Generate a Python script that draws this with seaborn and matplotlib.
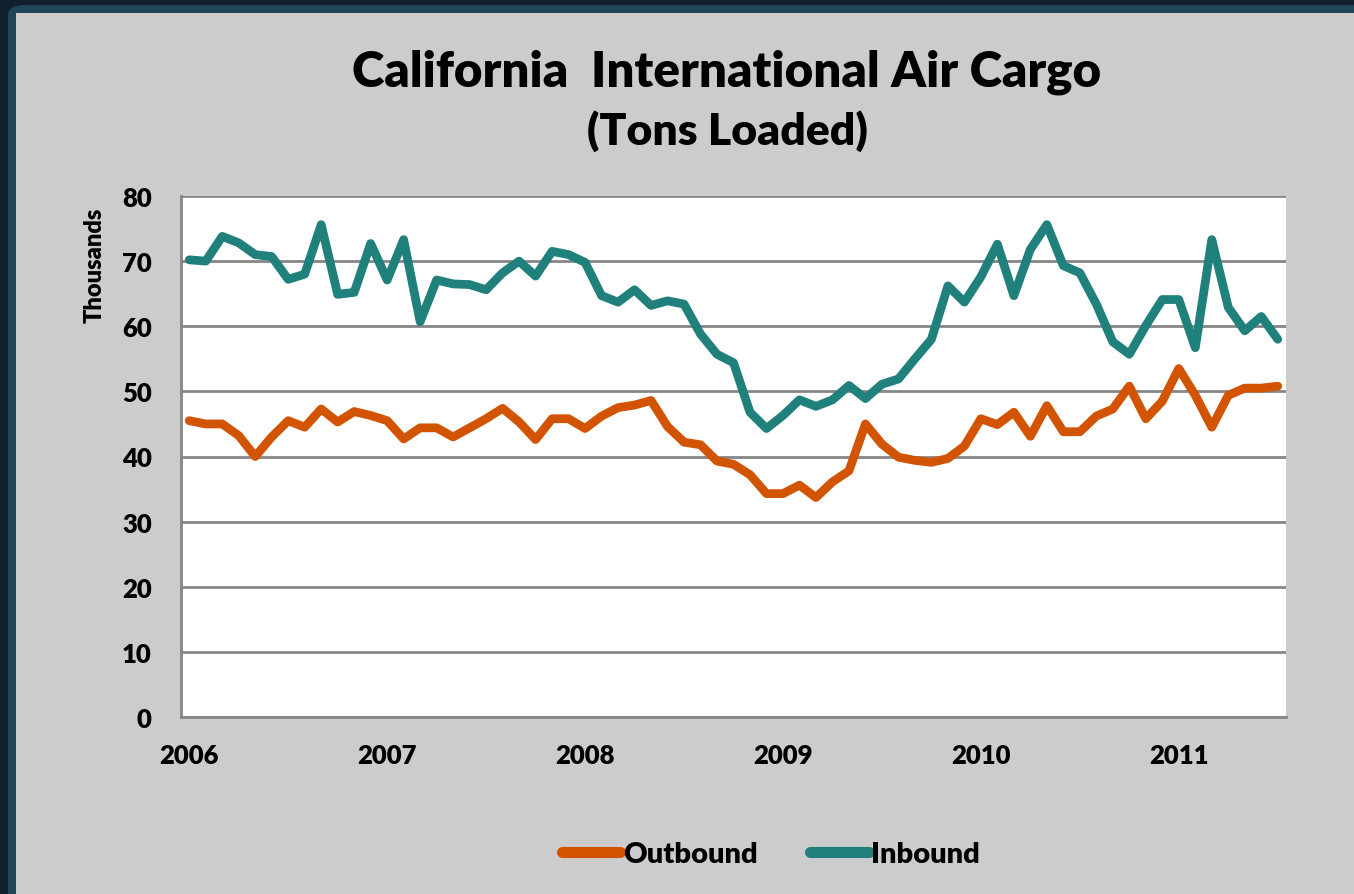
"""California international air cargo, tons loaded, monthly 2006-2011."""

import matplotlib.pyplot as plt
import pandas as pd
import seaborn as sns
from matplotlib.patches import FancyBboxPatch, Rectangle

YEARS = ["2006", "2007", "2008", "2009", "2010", "2011"]
SERIES = ["Outbound", "Inbound"]
COLORS = {"Outbound": "#D35400", "Inbound": "#1F807C"}

# thousands of tons, one value per month from Jan 2006 to Jul 2011
OUTBOUND = [
    45.5, 45.0, 45.0, 43.2, 40.0, 43.0, 45.5, 44.5, 47.3, 45.3, 46.9, 46.3,
    45.5, 42.7, 44.4, 44.4, 43.0, 44.4, 45.8, 47.4, 45.3, 42.6, 45.8, 45.8,
    44.3, 46.2, 47.5, 47.9, 48.6, 44.6, 42.2, 41.8, 39.3, 38.8, 37.2, 34.3,
    34.3, 35.6, 33.7, 36.1, 37.8, 45.0, 41.9, 39.9, 39.4, 39.1, 39.7, 41.6,
    45.8, 44.9, 46.8, 43.1, 47.8, 43.8, 43.8, 46.2, 47.3, 50.8, 45.8, 48.5,
    53.5, 49.4, 44.5, 49.4, 50.5, 50.5, 50.8,
]
INBOUND = [
    70.2, 70.0, 73.8, 72.8, 71.0, 70.7, 67.2, 68.0, 75.6, 64.9, 65.2, 72.7,
    67.1, 73.3, 60.7, 67.1, 66.5, 66.4, 65.6, 68.2, 70.0, 67.7, 71.5, 71.0,
    69.8, 64.7, 63.7, 65.6, 63.2, 63.9, 63.4, 58.8, 55.7, 54.4, 46.8, 44.3,
    46.3, 48.7, 47.7, 48.7, 50.9, 48.9, 51.1, 51.9, 55.0, 58.0, 66.2, 63.7,
    67.6, 72.6, 64.7, 71.8, 75.6, 69.3, 68.2, 63.4, 57.6, 55.7, 60.1, 64.1,
    64.1, 56.7, 73.3, 62.9, 59.3, 61.5, 58.0,
]

GRID_COLOR = "#868686"
PANEL_COLOR = "#CCCCCC"
FONT = ["Lato", "DejaVu Sans"]


def build_frame() -> pd.DataFrame:
    months = list(range(len(OUTBOUND)))
    frames = [
        pd.DataFrame({"month": months, "tons": OUTBOUND, "series": "Outbound"}),
        pd.DataFrame({"month": months, "tons": INBOUND, "series": "Inbound"}),
    ]
    return pd.concat(frames, ignore_index=True)


def draw_background(fig) -> None:
    W, H = fig.get_size_inches() * fig.dpi
    fig.patch.set_facecolor("#11202C")
    border = FancyBboxPatch(
        (8 / W, -0.1), 1.2, 1.1 - 6 / H,
        boxstyle="round,pad=0,rounding_size=0.012",
        transform=fig.transFigure, facecolor="#1F4558", edgecolor="none", zorder=-10,
    )
    panel = Rectangle(
        (16 / W, -0.1), 1.2, 1.1 - 14 / H,
        transform=fig.transFigure, facecolor=PANEL_COLOR, edgecolor="none", zorder=-9,
    )
    fig.add_artist(border)
    fig.add_artist(panel)


def main() -> None:
    sns.set_theme(style="white")
    plt.rcParams["font.family"] = FONT
    plt.rcParams["font.weight"] = "bold"
    plt.rcParams["text.color"] = "black"

    df = build_frame()
    n = len(OUTBOUND)

    fig = plt.figure(figsize=(13.54, 8.95), dpi=100)
    draw_background(fig)
    ax = fig.add_axes([181 / 1354, 1 - 718 / 895, (1286 - 181) / 1354, (718 - 197) / 895])
    ax.set_facecolor("white")

    sns.lineplot(
        data=df, x="month", y="tons", hue="series", hue_order=SERIES,
        palette=COLORS, linewidth=6.3, ax=ax, legend=False,
        solid_joinstyle="round", solid_capstyle="round", zorder=3,
    )

    ax.set_xlim(-0.5, n - 0.5)
    ax.set_ylim(0, 80)
    ax.set_yticks(range(0, 81, 10))
    ax.yaxis.grid(True, color=GRID_COLOR, linewidth=2)
    ax.set_axisbelow(True)

    ax.set_xticks([12 * i for i in range(len(YEARS))])
    ax.set_xticklabels(YEARS)
    ax.set_xticks([i - 0.5 for i in range(n + 1)], minor=True)
    ax.tick_params(axis="x", which="major", length=0, pad=19, labelsize=18.5, labelcolor="black")
    ax.tick_params(axis="x", which="minor", length=9, width=1.5, color=GRID_COLOR, direction="out")
    ax.tick_params(axis="y", length=10, width=1.5, color=GRID_COLOR, direction="out",
                   pad=11, labelsize=18.5, labelcolor="black")
    for label in ax.get_xticklabels() + ax.get_yticklabels():
        label.set_fontweight("heavy")

    for side in ["top", "right"]:
        ax.spines[side].set_visible(False)
    for side in ["left", "bottom"]:
        ax.spines[side].set_color(GRID_COLOR)
        ax.spines[side].set_linewidth(2)
    ax.set_xlabel("")
    ax.set_ylabel("")

    fig.text(727 / 1354, 1 - 72 / 895, "California  International Air Cargo",
             ha="center", va="center", fontsize=35.5, fontweight="heavy")
    fig.text(727 / 1354, 1 - 131 / 895, "(Tons Loaded)",
             ha="center", va="center", fontsize=32, fontweight="heavy")
    fig.text(95 / 1354, 1 - 265 / 895, "Thousands", rotation=90,
             ha="center", va="center", fontsize=17, fontweight="heavy")

    handles = [
        plt.Line2D([], [], color=COLORS[s], linewidth=8, solid_capstyle="round") for s in SERIES
    ]
    fig.legend(handles, SERIES, loc="center", bbox_to_anchor=(771 / 1354, 1 - 855 / 895),
               ncol=2, frameon=False, handlelength=2.0, handletextpad=0.1,
               columnspacing=1.8, prop={"size": 21, "weight": "heavy"})

    fig.savefig("out.png", dpi=100, facecolor=fig.get_facecolor())
    plt.close(fig)


if __name__ == "__main__":
    main()
